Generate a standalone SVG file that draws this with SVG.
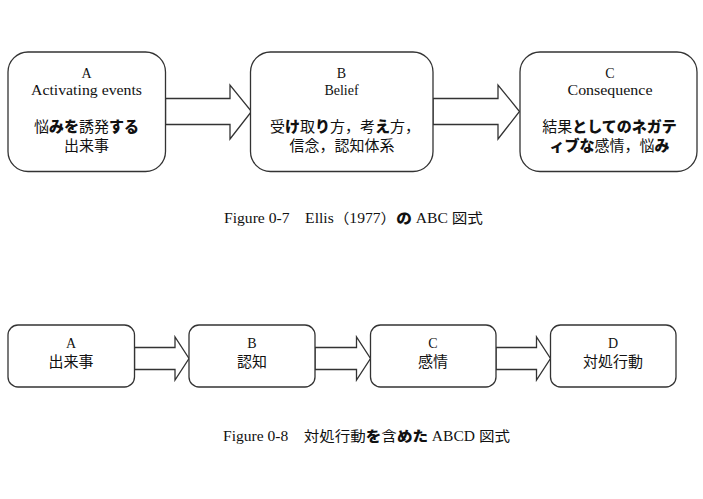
<svg xmlns="http://www.w3.org/2000/svg" width="703" height="499" viewBox="0 0 703 499">
  <style>
    .box { fill: #ffffff; stroke: #333333; stroke-width: 1.3; }
    .arrow { fill: #ffffff; stroke: #333333; stroke-width: 1.3; stroke-linejoin: miter; }
    .lat { font-family: "Liberation Serif", "Noto Sans CJK JP", serif; font-size: 14px; fill: #111111; text-anchor: middle; }
    .jp { font-family: "Noto Sans CJK JP", sans-serif; font-size: 15px; fill: #111111; text-anchor: middle; }
    .cap { font-family: "Liberation Serif", "Noto Sans CJK JP", serif; font-size: 14px; fill: #111111; }
    .k { font-weight: 900; font-family: "Noto Sans CJK JP", sans-serif; }
  </style>

  <!-- ABC model -->
  <g id="connectors-abc">
    <polygon class="arrow" points="165.5,98.5 230,98.5 230,85 251.5,111.5 230,139 230,124.5 165.5,124.5"/>
    <polygon class="arrow" points="433,98.5 498,98.5 498,85 519.5,111.5 498,139 498,124.5 433,124.5"/>
  </g>

  <g id="node-a">
    <rect class="box" x="8" y="52" width="157.5" height="119.5" rx="20"/>
    <text class="lat" x="86.5" y="78">A</text>
    <text class="lat" x="86.5" y="95" textLength="111" lengthAdjust="spacingAndGlyphs">Activating events</text>
    <text class="jp" x="86.5" y="132">悩<tspan class="k">みを</tspan>誘発<tspan class="k">する</tspan></text>
    <text class="jp" x="86.5" y="151">出来事</text>
  </g>

  <g id="node-b">
    <rect class="box" x="250.5" y="52" width="182.5" height="119.5" rx="20"/>
    <text class="lat" x="341.5" y="78">B</text>
    <text class="lat" x="341.5" y="95">Belief</text>
    <text class="jp" x="345" y="132">受<tspan class="k">け</tspan>取<tspan class="k">り</tspan>方，考<tspan class="k">え</tspan>方，</text>
    <text class="jp" x="342" y="151">信念，認知体系</text>
  </g>

  <g id="node-c">
    <rect class="box" x="520" y="52" width="177" height="119.5" rx="20"/>
    <text class="lat" x="610" y="78">C</text>
    <text class="lat" x="610" y="95" textLength="85" lengthAdjust="spacingAndGlyphs">Consequence</text>
    <text class="jp" x="609.5" y="132">結果<tspan class="k">としてのネガテ</tspan></text>
    <text class="jp" x="609.5" y="151"><tspan class="k">ィブな</tspan>感情，悩<tspan class="k">み</tspan></text>
  </g>

  <text class="cap" x="224" y="223" textLength="259" lengthAdjust="spacingAndGlyphs">Figure 0-7　Ellis（1977）<tspan class="k">の</tspan> ABC 図式</text>

  <!-- ABCD model -->
  <g id="connectors-abcd">
    <polygon class="arrow" points="134.5,347.5 175,347.5 175,337 189,358.5 175,380 175,369.5 134.5,369.5"/>
    <polygon class="arrow" points="315,347.5 356.5,347.5 356.5,337 370.5,358.5 356.5,380 356.5,369.5 315,369.5"/>
    <polygon class="arrow" points="496,347.5 536.5,347.5 536.5,337 550.5,358.5 536.5,380 536.5,369.5 496,369.5"/>
  </g>

  <g id="node-a2">
    <rect class="box" x="8" y="325" width="126.5" height="62" rx="10"/>
    <text class="lat" x="71" y="348">A</text>
    <text class="jp" x="71" y="367">出来事</text>
  </g>

  <g id="node-b2">
    <rect class="box" x="189" y="325" width="126" height="62" rx="10"/>
    <text class="lat" x="252" y="348">B</text>
    <text class="jp" x="252" y="367">認知</text>
  </g>

  <g id="node-c2">
    <rect class="box" x="370.5" y="325" width="125.5" height="62" rx="10"/>
    <text class="lat" x="433" y="348">C</text>
    <text class="jp" x="433" y="367">感情</text>
  </g>

  <g id="node-d2">
    <rect class="box" x="550.5" y="325" width="125.5" height="62" rx="10"/>
    <text class="lat" x="613" y="348">D</text>
    <text class="jp" x="613" y="367">対処行動</text>
  </g>

  <text class="cap" x="223" y="441" textLength="287" lengthAdjust="spacingAndGlyphs">Figure 0-8　対処行動<tspan class="k">を</tspan>含<tspan class="k">めた</tspan> ABCD 図式</text>
</svg>
